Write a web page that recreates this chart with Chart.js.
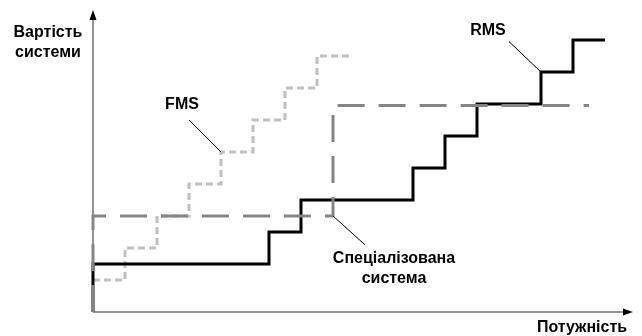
<!DOCTYPE html>
<html lang="uk">
<head>
<meta charset="utf-8">
<script src="https://cdn.jsdelivr.net/npm/chart.js@4/dist/chart.umd.min.js"></script>
<style>
  body { margin: 0; background: #fff; }
  #wrap { position: relative; width: 642px; height: 336px; }
  .lbl { position: absolute; font-family: "Liberation Sans", Arial, sans-serif; font-size: 16px; font-weight: bold; line-height: 20px; color: #000; text-align: center; white-space: nowrap; transform: translate(-50%, -50%); }
</style>
</head>
<body>
<div id="wrap">
  <canvas id="grafico"></canvas>
  <div class="lbl" style="left:48px; top:42px;">Вартість<br>системи</div>
  <div class="lbl" style="left:182px; top:104px;">FMS</div>
  <div class="lbl" style="left:488px; top:30px;">RMS</div>
  <div class="lbl" style="left:394px; top:268px;">Спеціалізована<br>система</div>
  <div class="lbl" style="left:582px; top:327px;">Потужність</div>
</div>
<script>
// Datos de las curvas (unidades de potencia / coste)
const rmsX = [0, 0, 5.5, 6.5, 10, 11, 12, 14, 15, 16];
const rmsY = [0, 1.5, 2.5, 3.5, 4.5, 5.5, 6.5, 7.5, 8.5, 8.5];

const fmsX = [0, 1, 2, 3, 4, 5, 6, 7, 8];
const fmsY = [1, 2, 3, 4, 5, 6, 7, 8, 8];

const espX = [0, 0, 7.5, 15.5];
const espY = [0, 3, 6.45, 6.45];

// Límites de los ejes
const xMax = 16.875;
const yMax = 9.4375;

// Líneas de llamada: [desde x, desde y, hasta x, hasta y]
const llamadas = [
  [3, 6, 4, 5],
  [13, 8.45, 14, 7.5],
  [7.5, 3, 8.5, 2.1]
];

function puntos(xs, ys) {
  return xs.map((x, i) => ({ x: x, y: ys[i] }));
}

// Plugin que dibuja los ejes con flechas y las líneas de llamada
const ejes = {
  id: "ejes",
  beforeDatasetsDraw(chart) {
    const ctx = chart.ctx;
    const sx = chart.scales.x;
    const sy = chart.scales.y;
    const x0 = sx.getPixelForValue(0);
    const y0 = sy.getPixelForValue(0);
    const xe = sx.getPixelForValue(xMax);
    const ye = sy.getPixelForValue(yMax);
    ctx.save();
    ctx.strokeStyle = "#707070";
    ctx.lineWidth = 1.5;
    ctx.beginPath();
    ctx.moveTo(x0, y0);
    ctx.lineTo(x0, ye + 6);
    ctx.moveTo(x0, y0);
    ctx.lineTo(xe - 6, y0);
    ctx.stroke();
    ctx.fillStyle = "#000";
    ctx.beginPath();
    ctx.moveTo(x0, ye);
    ctx.lineTo(x0 - 3.5, ye + 10);
    ctx.lineTo(x0 + 3.5, ye + 10);
    ctx.closePath();
    ctx.fill();
    ctx.beginPath();
    ctx.moveTo(xe, y0);
    ctx.lineTo(xe - 10, y0 - 3.5);
    ctx.lineTo(xe - 10, y0 + 3.5);
    ctx.closePath();
    ctx.fill();
    ctx.restore();
  },
  afterDatasetsDraw(chart) {
    const ctx = chart.ctx;
    const sx = chart.scales.x;
    const sy = chart.scales.y;
    ctx.save();
    ctx.strokeStyle = "#000";
    ctx.lineWidth = 1;
    for (const l of llamadas) {
      ctx.beginPath();
      ctx.moveTo(sx.getPixelForValue(l[0]), sy.getPixelForValue(l[1]));
      ctx.lineTo(sx.getPixelForValue(l[2]), sy.getPixelForValue(l[3]));
      ctx.stroke();
    }
    ctx.restore();
  }
};

const ctx = document.getElementById("grafico").getContext("2d");
const chart = new Chart(ctx, {
  type: "line",
  data: {
    datasets: [
      {
        label: "Спеціалізована система",
        data: puntos(espX, espY),
        borderColor: "#858585",
        borderWidth: 3,
        borderDash: [27, 14],
        stepped: "before"
      },
      {
        label: "RMS",
        data: puntos(rmsX, rmsY),
        borderColor: "#000",
        borderWidth: 3,
        stepped: "before"
      },
      {
        label: "FMS",
        data: puntos(fmsX, fmsY),
        borderColor: "#c0c0c0",
        borderWidth: 3,
        borderDash: [7, 4],
        stepped: "before"
      }
    ]
  },
  options: {
    responsive: true,
    maintainAspectRatio: false,
    animation: false,
    clip: false,
    layout: { padding: { left: 93, right: 9, top: 10, bottom: 24 } },
    elements: { point: { radius: 0 }, line: { fill: false } },
    plugins: { legend: { display: false }, tooltip: { enabled: false } },
    scales: {
      x: { type: "linear", min: 0, max: xMax, display: false },
      y: { type: "linear", min: 0, max: yMax, display: false }
    }
  },
  plugins: [ejes]
});
</script>
</body>
</html>
